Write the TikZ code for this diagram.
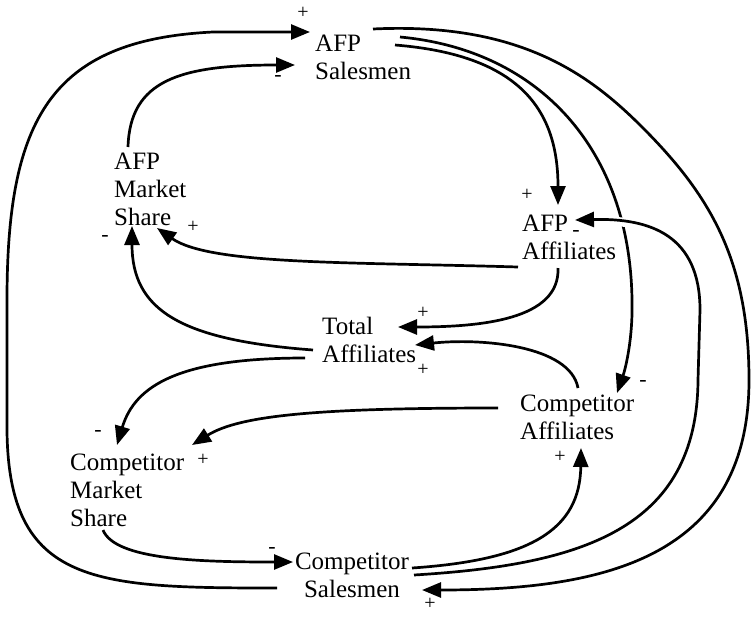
\documentclass[tikz,border=0pt]{standalone}
\usepackage{fontspec}
\setmainfont{Liberation Serif}
\usetikzlibrary{arrows.meta}
\begin{document}
\begin{tikzpicture}[x=1pt,y=-1pt,
  var/.style={font=\fontsize{25}{28}\selectfont, align=left, inner sep=0pt, anchor=west},
  link/.style={line width=2.7pt, -{Triangle[length=19pt,width=15pt]}},
  signp/.style={font=\fontsize{20}{20}\selectfont, inner sep=0pt},
  signm/.style={font=\fontsize{22}{22}\selectfont, inner sep=0pt},
  ]
\useasboundingbox (0,0) rectangle (751,616);

% variables
\node[var] (as)  at (315,57)  {AFP\\Salesmen};
\node[var] (ams) at (114,189) {AFP\\Market\\Share};
\node[var] (aa)  at (522,237) {AFP\\Affiliates};
\node[var] (ta)  at (322,340) {Total\\Affiliates};
\node[var] (ca)  at (520,417) {Competitor\\Affiliates};
\node[var] (cms) at (70,490)  {Competitor\\Market\\Share};
\node[var, align=center, anchor=center] (cs) at (352,575) {Competitor\\Salesmen};

% AFP Salesmen -> Competitor Affiliates (drawn first, crossed by the next link)
\draw[link] ([shift={(85,-20)}]as.west) .. controls (540,50) and (630,150) .. (632,300)
   .. controls (633,340) and (625,370) .. ([shift={(97,-24)}]ca.west);
% Competitor Salesmen -> AFP Affiliates
\draw[link, preaction={draw=white, line width=9pt, -}] ([shift={(62,0)}]cs.center)
   .. controls (580,565) and (697,530) .. (698,380) -- (700,310)
   .. controls (700,235) and (650,218) .. ([shift={(53,-17)}]aa.west);

% Competitor Salesmen -> AFP Salesmen (outer left loop)
\draw[link] ([shift={(-75,13)}]cs.center) .. controls (90,588) and (5,585) .. (7,420)
   -- (7,300) .. controls (7,120) and (50,40) .. (213,32) -- ([shift={(-5,-25)}]as.west);
% AFP Market Share -> AFP Salesmen
\draw[link] ([shift={(14,-42)}]ams.west) .. controls (130,80) and (180,65) .. ([shift={(-20,8)}]as.west);
% AFP Salesmen -> AFP Affiliates
\draw[link] ([shift={(80,-12)}]as.west) .. controls (520,55) and (558,110) .. ([shift={(36,-32)}]aa.west);
% Competitor Salesmen -> Competitor Affiliates
\draw[link] ([shift={(60,-7)}]cs.center) .. controls (530,560) and (580,530) .. ([shift={(61,31)}]ca.west);
% AFP Salesmen -> Competitor Salesmen (outer right loop)
\draw[link] ([shift={(58,-28)}]as.west) .. controls (520,22) and (590,75) .. (642,127)
   .. controls (710,195) and (749,260) .. (749,380)
   .. controls (749,560) and (600,590) .. ([shift={(70,15)}]cs.center);
% AFP Affiliates -> AFP Market Share
\draw[link] ([shift={(-4,30)}]aa.west) .. controls (350,262) and (210,265) .. ([shift={(43,39)}]ams.west);
% AFP Affiliates -> Total Affiliates
\draw[link] ([shift={(36,31)}]aa.west) .. controls (560,320) and (480,327) .. ([shift={(76,-13)}]ta.west);
% Competitor Affiliates -> Total Affiliates
\draw[link] ([shift={(58,-29)}]ca.west) .. controls (570,345) and (480,338) .. ([shift={(93,5)}]ta.west);
% Total Affiliates -> AFP Market Share
\draw[link] ([shift={(-9,10)}]ta.west) .. controls (180,340) and (132,310) .. ([shift={(18,37)}]ams.west);
% Total Affiliates -> Competitor Market Share
\draw[link] ([shift={(-17,18)}]ta.west) .. controls (180,358) and (135,385) .. ([shift={(47,-45)}]cms.west);
% Competitor Affiliates -> Competitor Market Share
\draw[link] ([shift={(-22,-9)}]ca.west) .. controls (320,408) and (240,415) .. ([shift={(122,-45)}]cms.west);
% Competitor Market Share -> Competitor Salesmen
\draw[link] ([shift={(33,40)}]cms.west) .. controls (115,560) and (200,562) .. ([shift={(-59,-13)}]cs.center);

% polarity signs
\node[signp] (s1)  at (303,13)  {+};
\node[signm] (s2)  at (278,78)  {-};
\node[signp] (s3)  at (527,195) {+};
\node[signm] (s4)  at (576,233) {-};
\node[signp] (s5)  at (193,227) {+};
\node[signm] (s6)  at (105,238) {-};
\node[signp] (s7)  at (423,313) {+};
\node[signp] (s8)  at (423,370) {+};
\node[signm] (s9)  at (643,383) {-};
\node[signp] (s10) at (560,457) {+};
\node[signm] (s11) at (98,433)  {-};
\node[signp] (s12) at (203,460) {+};
\node[signm] (s13) at (272,550) {-};
\node[signp] (s14) at (430,604) {+};
\end{tikzpicture}
\end{document}
